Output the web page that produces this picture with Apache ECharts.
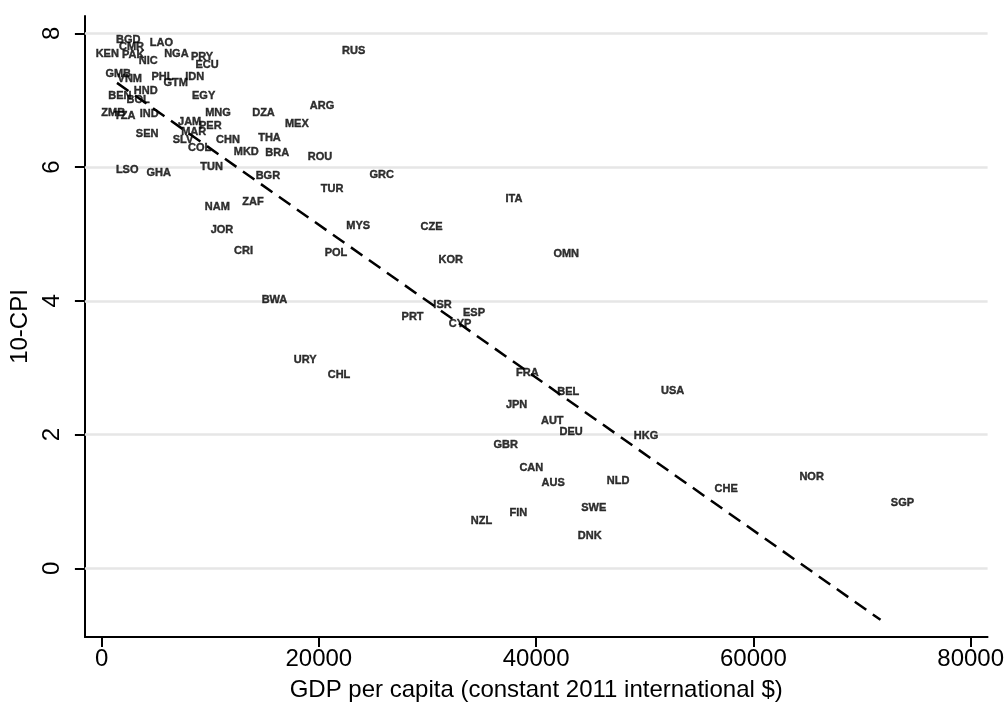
<!DOCTYPE html>
<html>
<head>
<meta charset="utf-8">
<script src="https://cdn.jsdelivr.net/npm/echarts@6/dist/echarts.min.js"></script>
<style>
html,body{margin:0;padding:0;background:#fff;}
#chart{width:1007px;height:707px;}
</style>
</head>
<body>
<div id="chart"></div>
<script>
// Country codes, GDP per capita, 10-CPI
var codes = ['BGD','CMR','LAO','KEN','PAK','NIC','NGA','PRY','ECU','GMB','VNM','PHL','GTM','IDN','HND','BEN','BOL','EGY','ZMB','TZA','IND','MNG','DZA','ARG','JAM','PER','MEX','SEN','MAR','SLV','CHN','THA','COL','MKD','BRA','ROU','LSO','GHA','TUN','BGR','GRC','TUR','NAM','ZAF','MYS','JOR','CRI','POL','BWA','RUS','ITA','CZE','KOR','OMN','ISR','ESP','PRT','CYP','URY','CHL','FRA','BEL','USA','JPN','AUT','DEU','HKG','GBR','CAN','AUS','NLD','SWE','FIN','NZL','DNK','NOR','CHE','SGP'];
var gdp = [2452,2755,5510,523,2911,4289,6888,9248,9708,1534,2599,5602,6824,8569,4069,1681,3371,9395,1075,2140,4381,10718,14906,20297,8110,10011,17973,4197,8477,7503,11636,15457,9028,13317,16164,20113,2360,5262,10130,15310,25780,21215,10653,13932,23630,11085,13069,21582,15916,23208,37958,30372,32144,42770,31382,34284,28627,32998,18735,21858,39188,42953,52560,38205,41484,43229,50117,37195,39556,41576,47546,45305,38362,34964,44937,65362,57492,73720];
var cpi = [7.90,7.79,7.85,7.69,7.67,7.59,7.69,7.64,7.53,7.40,7.32,7.35,7.26,7.35,7.14,7.06,7.00,7.06,6.81,6.77,6.79,6.81,6.81,6.92,6.68,6.62,6.64,6.49,6.52,6.40,6.40,6.43,6.29,6.23,6.21,6.15,5.96,5.92,6.00,5.87,5.89,5.67,5.41,5.48,5.12,5.06,4.74,4.71,4.02,7.74,5.53,5.10,4.61,4.70,3.94,3.82,3.76,3.66,3.11,2.89,2.92,2.63,2.65,2.44,2.21,2.04,1.98,1.84,1.50,1.27,1.31,0.91,0.83,0.71,0.49,1.37,1.18,0.98];
// Fitted line endpoints
var fitX = [1420, 71700];
var fitY = [7.26, -0.77];
// Tick labels
var xTicks = [0, 20000, 40000, 60000, 80000];
var yTicks = [0, 2, 4, 6, 8];

var FONT = "'Liberation Sans', Arial, sans-serif";
var chart = echarts.init(document.getElementById('chart'), null, {renderer: 'canvas'});

var pts = gdp.map(function (g, i) { return [g, cpi[i]]; });
var fit = fitX.map(function (x, i) { return [x, fitY[i]]; });

chart.setOption({
  animation: false,
  backgroundColor: '#ffffff',
  grid: {left: 83, right: 19, top: 16, bottom: 67, containLabel: false},
  xAxis: {
    type: 'value', min: -1534, max: 81557,
    name: 'GDP per capita (constant 2011 international $)',
    nameLocation: 'middle', nameGap: 41,
    nameTextStyle: {fontFamily: FONT, fontSize: 24, color: '#000'},
    axisLine: {show: true, onZero: false, lineStyle: {color: '#000', width: 2}},
    axisTick: {show: true, length: 10, lineStyle: {color: '#000', width: 2}, customValues: xTicks},
    axisLabel: {fontFamily: FONT, fontSize: 24, color: '#000', margin: 10, customValues: xTicks,
      formatter: function (v) { return String(v); }},
    splitLine: {show: false}
  },
  yAxis: {
    type: 'value', min: -1.027, max: 8.26,
    name: '10-CPI',
    nameLocation: 'middle', nameGap: 47, nameRotate: 90,
    nameTextStyle: {fontFamily: FONT, fontSize: 24, color: '#000'},
    axisLine: {show: true, onZero: false, lineStyle: {color: '#000', width: 2}},
    axisTick: {show: true, length: 10, lineStyle: {color: '#000', width: 2}, customValues: yTicks},
    axisLabel: {fontFamily: FONT, fontSize: 24, color: '#000', margin: 21, rotate: 90, customValues: yTicks,
      formatter: function (v) { return String(v); }},
    splitLine: {show: false}
  },
  series: [
    {
      type: 'line', data: [], z: 1, silent: true,
      markLine: {
        silent: true, symbol: 'none', animation: false, z: 1,
        label: {show: false},
        lineStyle: {color: '#e6e6e6', width: 2.5, type: 'solid'},
        emphasis: {disabled: true},
        data: yTicks.map(function (v) { return {yAxis: v}; })
      }
    },
    {
      type: 'line', data: fit, z: 3, silent: true,
      symbol: 'none',
      lineStyle: {color: '#000', width: 2.5, type: [14, 8]}
    },
    {
      type: 'scatter', data: pts, z: 4, silent: true,
      symbolSize: 0.1,
      itemStyle: {color: 'rgba(0,0,0,0)'},
      label: {
        show: true, position: 'inside',
        fontFamily: FONT, fontSize: 11, fontWeight: 'bold', color: '#000',
        textBorderColor: '#000', textBorderWidth: 0.4,
        formatter: function (p) { return codes[p.dataIndex]; }
      },
      labelLayout: {hideOverlap: false}
    }
  ]
});
</script>
</body>
</html>
